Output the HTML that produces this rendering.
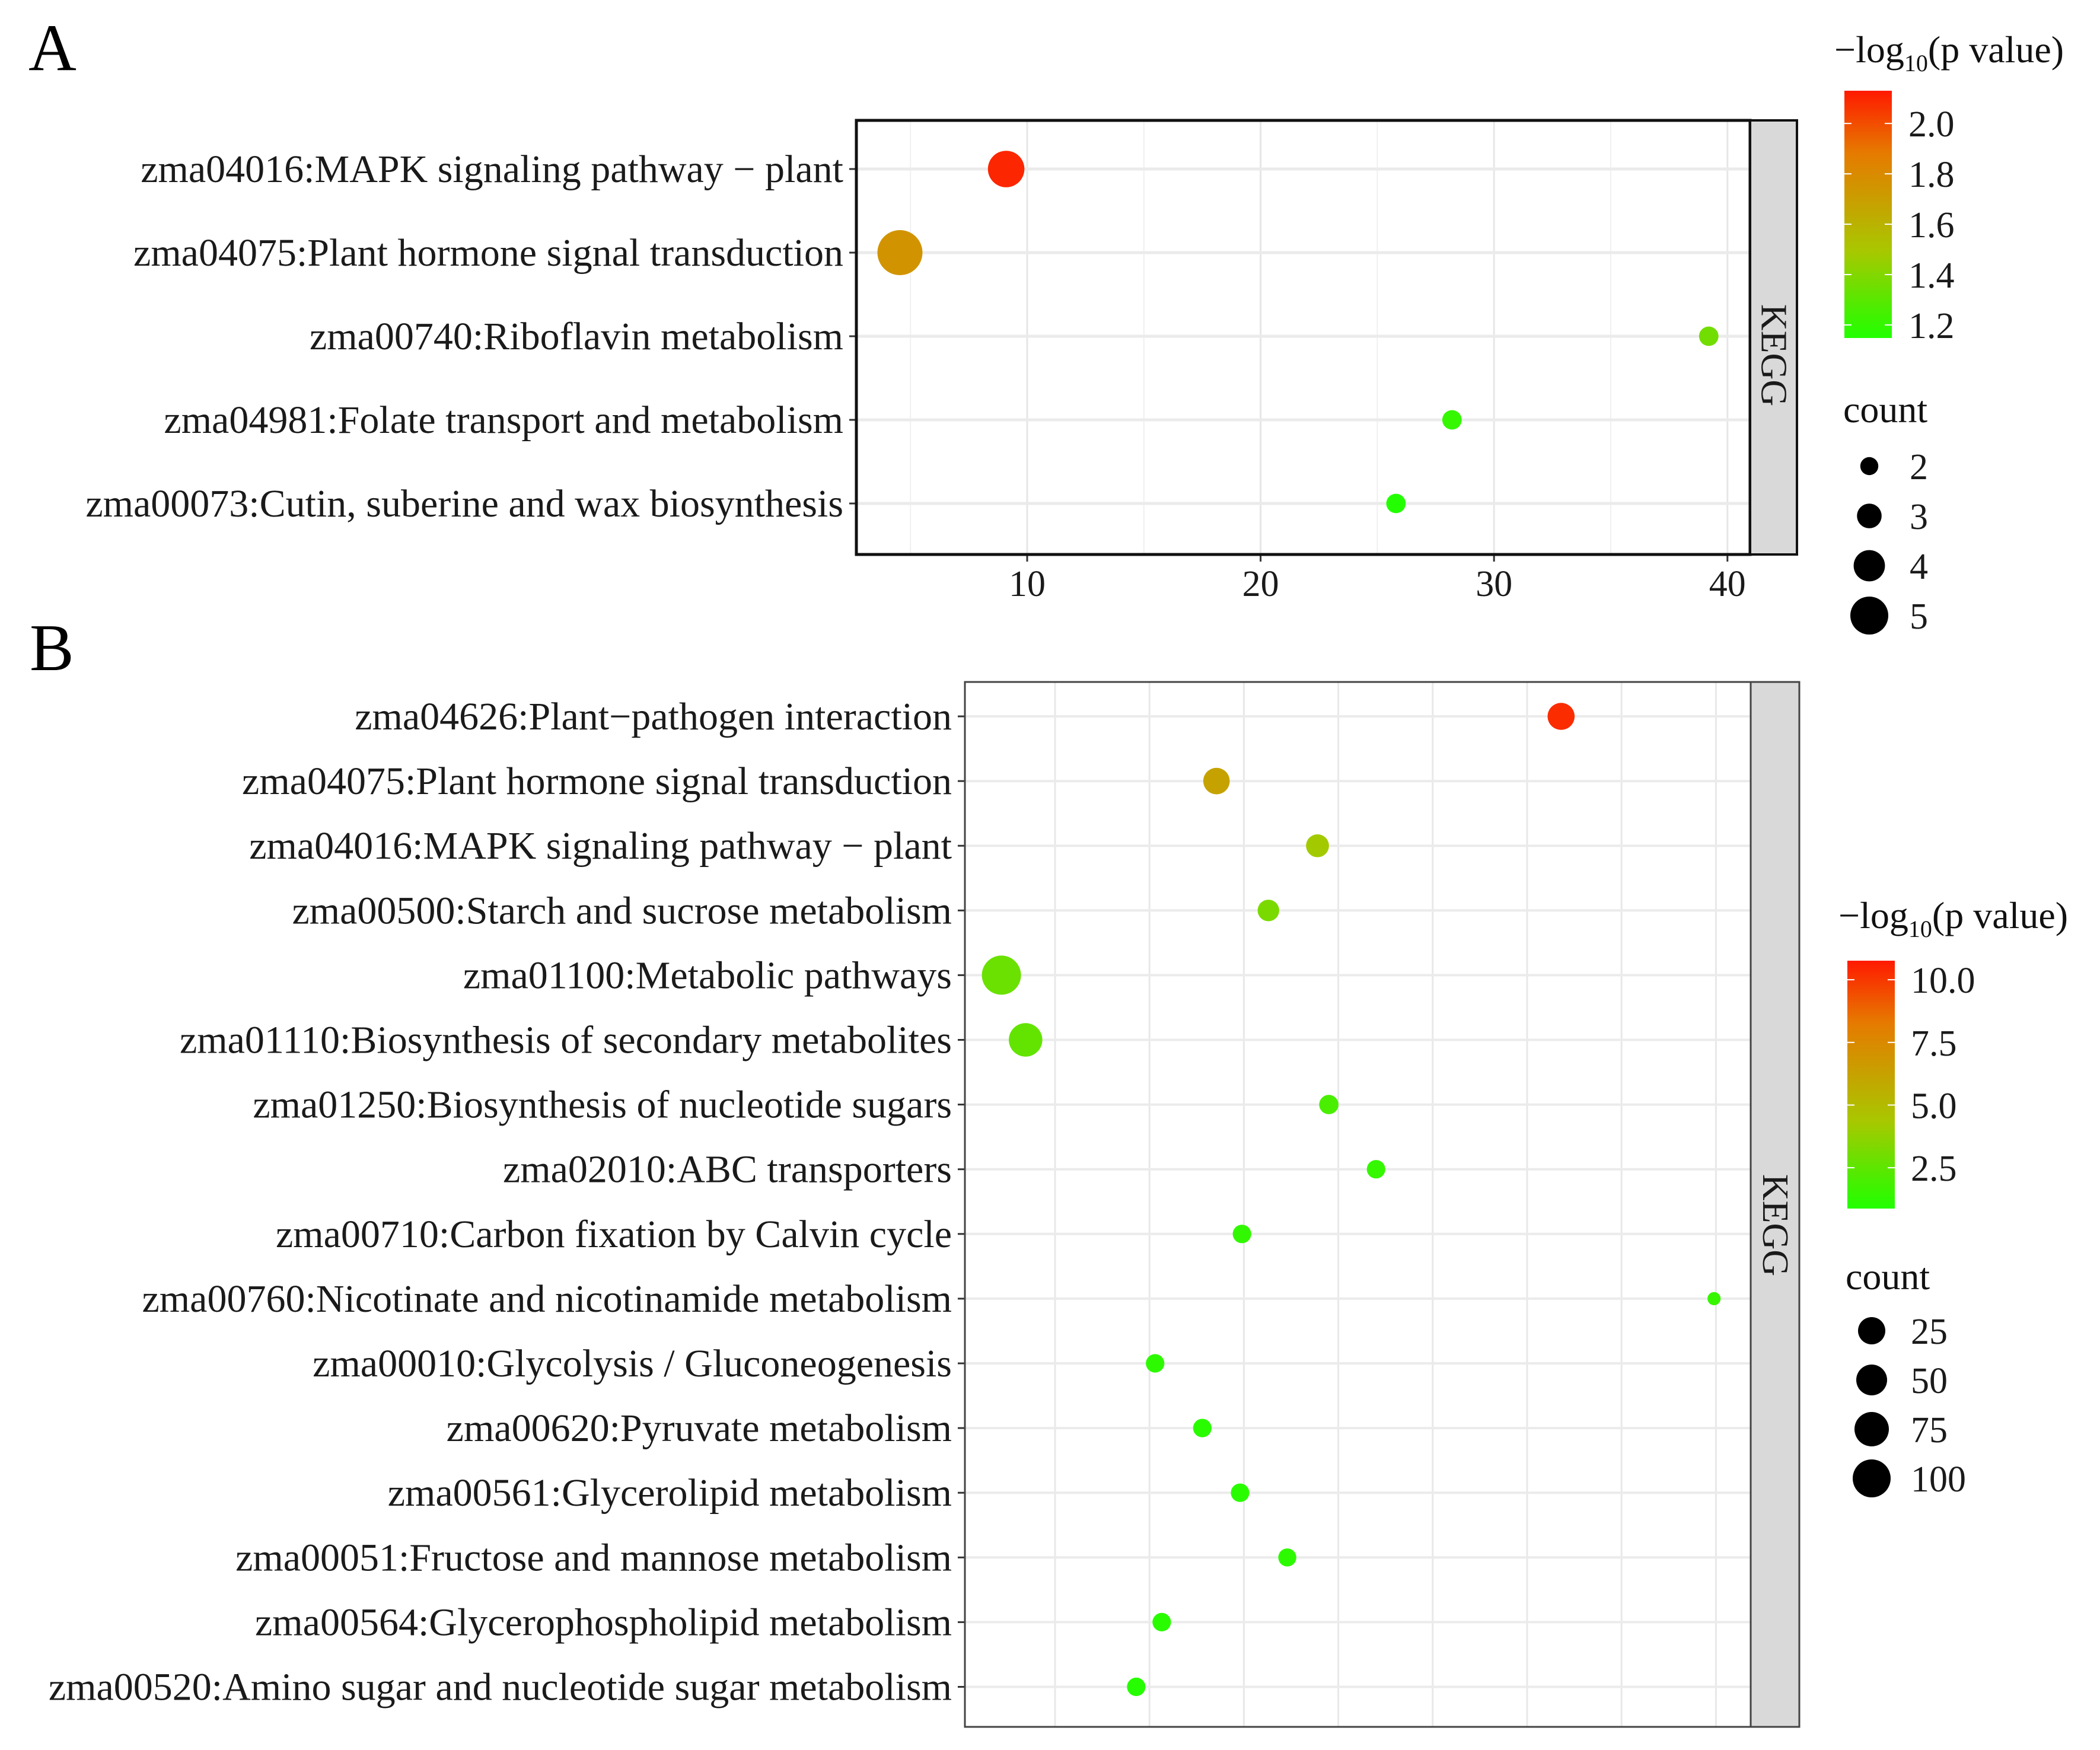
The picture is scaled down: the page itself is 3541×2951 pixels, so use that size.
<!DOCTYPE html>
<html><head><meta charset="utf-8"><style>
html,body{margin:0;padding:0;background:#fff;}
svg{display:block;font-family:"Liberation Serif",serif;}
text{font-family:"Liberation Serif",serif;}
</style></head><body>
<svg id="fig" width="3541" height="2951" viewBox="0 0 3541 2951" xmlns="http://www.w3.org/2000/svg" font-family="Liberation Serif, serif">
<defs>
<linearGradient id="gradA" x1="0" y1="1" x2="0" y2="0">
<stop offset="0" stop-color="#22ff00"/><stop offset="0.1" stop-color="#44f000"/><stop offset="0.35" stop-color="#a8c800"/><stop offset="0.55" stop-color="#c8a000"/><stop offset="0.75" stop-color="#e67a00"/><stop offset="1" stop-color="#ff1a00"/>
</linearGradient>
</defs>
<text x="48" y="118" font-size="112">A</text>
<text x="50" y="1130" font-size="112">B</text>
<g id="A"></g><g id="B"></g>
</svg>
<script>
// Panel A data
const catsA = ["zma04016:MAPK signaling pathway \u2212 plant","zma04075:Plant hormone signal transduction","zma00740:Riboflavin metabolism","zma04981:Folate transport and metabolism","zma00073:Cutin, suberine and wax biosynthesis"];
const xA = [9.1, 4.55, 39.2, 28.2, 25.8];
const pA = [2.1, 1.75, 1.36, 1.2, 1.15];
const countA = [4, 5, 2, 2, 2];
const ticksA = [10, 20, 30, 40];
const colorTicksA = ["2.0","1.8","1.6","1.4","1.2"];
const sizeTicksA = [2, 3, 4, 5];
// Panel B data
const catsB = ["zma04626:Plant\u2212pathogen interaction","zma04075:Plant hormone signal transduction","zma04016:MAPK signaling pathway \u2212 plant","zma00500:Starch and sucrose metabolism","zma01100:Metabolic pathways","zma01110:Biosynthesis of secondary metabolites","zma01250:Biosynthesis of nucleotide sugars","zma02010:ABC transporters","zma00710:Carbon fixation by Calvin cycle","zma00760:Nicotinate and nicotinamide metabolism","zma00010:Glycolysis / Gluconeogenesis","zma00620:Pyruvate metabolism","zma00561:Glycerolipid metabolism","zma00051:Fructose and mannose metabolism","zma00564:Glycerophospholipid metabolism","zma00520:Amino sugar and nucleotide sugar metabolism"];
const xB = [31.8, 13.55, 18.9, 16.3, 2.16, 3.44, 19.5, 22.0, 14.9, 39.9, 10.3, 12.8, 14.8, 17.3, 10.65, 9.3];
const pB = [10.3, 6.2, 4.2, 3.2, 2.8, 2.6, 2.0, 1.4, 1.3, 1.5, 1.2, 1.1, 1.1, 1.2, 1.1, 1.0];
const countB = [42, 40, 28, 24, 100, 70, 18, 16, 16, 6, 16, 16, 16, 15, 16, 16];
const gridB = [5, 10, 15, 20, 25, 30, 35, 40];
const colorTicksB = ["10.0","7.5","5.0","2.5"];
const sizeTicksB = [25, 50, 75, 100];

const NS = "http://www.w3.org/2000/svg";
function mk(parent, tag, attrs, text){const e=document.createElementNS(NS,tag);for(const k in attrs)e.setAttribute(k,attrs[k]);if(text!==undefined)e.textContent=text;parent.appendChild(e);return e;}
const stops=[[0,[34,255,0]],[0.1,[68,240,0]],[0.35,[168,200,0]],[0.55,[200,160,0]],[0.75,[230,122,0]],[1,[255,26,0]]];
function col(t){t=Math.max(0,Math.min(1,t));for(let i=1;i<stops.length;i++){if(t<=stops[i][0]){const a=stops[i-1],b=stops[i];const f=(t-a[0])/(b[0]-a[0]);const c=a[1].map((v,j)=>Math.round(v+(b[1][j]-v)*f));return `rgb(${c[0]},${c[1]},${c[2]})`;}}return "rgb(255,26,0)";}
const LF=66, TF=62;

// ---------- Panel A ----------
(function(){
const g=document.getElementById('A');
const L=1444,R=2951,T=203,Bt=935,SR=3030;
const xs=v=>1732+(v-10)*39.36;
const ys=i=>285+i*141;
const cs=v=>(v-1.148)/(2.13-1.148);
const rs=c=>2+7.2*c;
mk(g,'rect',{x:L,y:T,width:R-L,height:Bt-T,fill:'#fff'});
[5,15,25,35].forEach(v=>{const l=mk(g,'line',{x1:xs(v),x2:xs(v),y1:T,y2:Bt,stroke:'#f0f0f0','stroke-width':2});});
ticksA.forEach(v=>{const l=mk(g,'line',{x1:xs(v),x2:xs(v),y1:T,y2:Bt,stroke:'#e6e6e6','stroke-width':3});
 mk(g,'line',{x1:xs(v),x2:xs(v),y1:Bt,y2:Bt+12,stroke:'#333','stroke-width':3});
 const t=mk(g,'text',{x:xs(v),y:Bt+70,'font-size':TF,'text-anchor':'middle',fill:'#1a1a1a'},v);});
catsA.forEach((c,i)=>{const l=mk(g,'line',{x1:L,x2:R,y1:ys(i),y2:ys(i),stroke:'#ebebeb','stroke-width':5});
 mk(g,'line',{x1:L-12,x2:L,y1:ys(i),y2:ys(i),stroke:'#333','stroke-width':3});
 const t=mk(g,'text',{x:L-22,y:ys(i)+22,'font-size':LF,'text-anchor':'end',fill:'#1a1a1a'},c);});
catsA.forEach((c,i)=>{const p=mk(g,'circle',{cx:xs(xA[i]),cy:ys(i),r:rs(countA[i]),fill:col(cs(pA[i]))});});
const fr=mk(g,'rect',{x:L,y:T,width:R-L,height:Bt-T,fill:'none',stroke:'#111','stroke-width':5});
const st=mk(g,'rect',{x:R,y:T,width:SR-R,height:Bt-T,fill:'#d9d9d9',stroke:'#111','stroke-width':4});
const kt=mk(g,'text',{x:0,y:0,'font-size':62,'text-anchor':'middle',transform:`translate(${(R+SR)/2-20},599) rotate(90)`,fill:'#1a1a1a'},'KEGG');
const tt=mk(g,'text',{x:3093,y:105,'font-size':64,fill:'#111'});
mk(tt,'tspan',{},'\u2212log');mk(tt,'tspan',{'font-size':40,dy:15},'10');mk(tt,'tspan',{dy:-15},'(p value)');
const cb=mk(g,'rect',{x:3110,y:153,width:80,height:417,fill:'url(#gradA)'});
const cby=v=>570-(v-1.148)/(2.13-1.148)*417;
colorTicksA.forEach(s=>{const y=cby(parseFloat(s));mk(g,'line',{x1:3110,x2:3122,y1:y,y2:y,stroke:'#fff','stroke-width':2});mk(g,'line',{x1:3178,x2:3190,y1:y,y2:y,stroke:'#fff','stroke-width':2});
 const t=mk(g,'text',{x:3218,y:y+22,'font-size':TF,fill:'#1a1a1a'},s);});
const ct=mk(g,'text',{x:3108,y:712,'font-size':64,fill:'#111'},'count');
const lr=c=>4+5.6*c;
sizeTicksA.forEach((c,i)=>{const y=786+i*84;const k=mk(g,'circle',{cx:3152,cy:y,r:lr(c),fill:'#000'});
 const t=mk(g,'text',{x:3220,y:y+22,'font-size':TF,fill:'#1a1a1a'},c);});
})();

// ---------- Panel B ----------
(function(){
const g=document.getElementById('B');
const L=1627,R=2952,T=1150,Bt=2912,SR=3034;
const xs=v=>1779+(v-5)*31.84;
const ys=i=>1208+i*109.1;
const cmin=0.87,cmax=10.76;
const cs=v=>(v-cmin)/(cmax-cmin);
const rs=c=>4+2.9*Math.sqrt(c);
mk(g,'rect',{x:L,y:T,width:R-L,height:Bt-T,fill:'#fff'});
gridB.forEach(v=>{const l=mk(g,'line',{x1:xs(v),x2:xs(v),y1:T,y2:Bt,stroke:'#e8e8e8','stroke-width':3});});
catsB.forEach((c,i)=>{const l=mk(g,'line',{x1:L,x2:R,y1:ys(i),y2:ys(i),stroke:'#ebebeb','stroke-width':4});
 mk(g,'line',{x1:L-12,x2:L,y1:ys(i),y2:ys(i),stroke:'#333','stroke-width':3});
 const t=mk(g,'text',{x:L-22,y:ys(i)+22,'font-size':LF,'text-anchor':'end',fill:'#1a1a1a'},c);});
catsB.forEach((c,i)=>{const p=mk(g,'circle',{cx:xs(xB[i]),cy:ys(i),r:rs(countB[i]),fill:col(cs(pB[i]))});});
const fr=mk(g,'rect',{x:L,y:T,width:R-L,height:Bt-T,fill:'none',stroke:'#444','stroke-width':3});
const st=mk(g,'rect',{x:R,y:T,width:SR-R,height:Bt-T,fill:'#d9d9d9',stroke:'#444','stroke-width':3});
const kt=mk(g,'text',{x:0,y:0,'font-size':62,'text-anchor':'middle',transform:`translate(${(R+SR)/2-20},2066) rotate(90)`,fill:'#1a1a1a'},'KEGG');
const tt=mk(g,'text',{x:3100,y:1565,'font-size':64,fill:'#111'});
mk(tt,'tspan',{},'\u2212log');mk(tt,'tspan',{'font-size':40,dy:15},'10');mk(tt,'tspan',{dy:-15},'(p value)');
const cb=mk(g,'rect',{x:3115,y:1620,width:80,height:418,fill:'url(#gradA)'});
const cby=v=>2038-(v-cmin)/(cmax-cmin)*418;
colorTicksB.forEach(s=>{const y=cby(parseFloat(s));mk(g,'line',{x1:3115,x2:3127,y1:y,y2:y,stroke:'#fff','stroke-width':2});mk(g,'line',{x1:3183,x2:3195,y1:y,y2:y,stroke:'#fff','stroke-width':2});
 const t=mk(g,'text',{x:3222,y:y+22,'font-size':TF,fill:'#1a1a1a'},s);});
const ct=mk(g,'text',{x:3112,y:2174,'font-size':64,fill:'#111'},'count');
const lr=c=>20+0.12*c;
sizeTicksB.forEach((c,i)=>{const y=2244+i*83;const k=mk(g,'circle',{cx:3156,cy:y,r:lr(c),fill:'#000'});
 const t=mk(g,'text',{x:3222,y:y+22,'font-size':TF,fill:'#1a1a1a'},c);});
})();
</script>
</body></html>
